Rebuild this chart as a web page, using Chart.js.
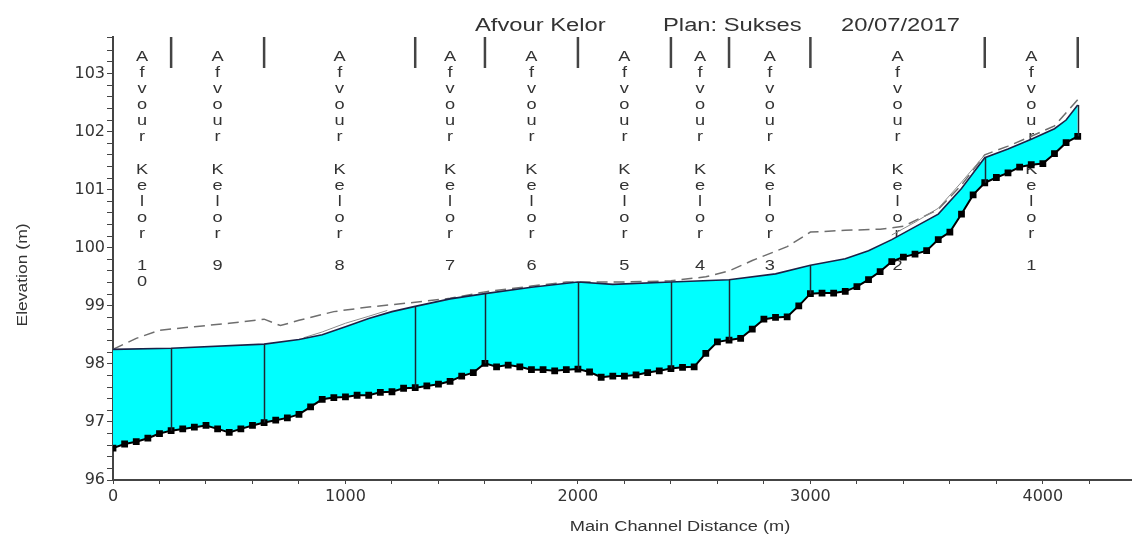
<!DOCTYPE html>
<html>
<head>
<meta charset="utf-8">
<title>Afvour Kelor - Plan: Sukses</title>
<script src="https://cdn.jsdelivr.net/npm/chart.js@4.4.1/dist/chart.umd.min.js"></script>
<style>
  html, body { margin: 0; padding: 0; background: #fff; }
  #wrap { width: 1136px; height: 536px; }
</style>
</head>
<body>
<div id="wrap"><canvas id="profile" width="1136" height="536"></canvas></div>
<script>
// ground (channel bed) points, every 50 m along the main channel
var bedDist = [0, 50, 100, 150, 200, 250, 300, 350, 400, 450,
  500, 550, 600, 650, 700, 750, 800, 850, 900, 950,
  1000, 1050, 1100, 1150, 1200, 1250, 1300, 1350, 1400, 1450,
  1500, 1550, 1600, 1650, 1700, 1750, 1800, 1850, 1900, 1950,
  2000, 2050, 2100, 2150, 2200, 2250, 2300, 2350, 2400, 2450,
  2500, 2550, 2600, 2650, 2700, 2750, 2800, 2850, 2900, 2950,
  3000, 3050, 3100, 3150, 3200, 3250, 3300, 3350, 3400, 3450,
  3500, 3550, 3600, 3650, 3700, 3750, 3800, 3850, 3900, 3950,
  4000, 4050, 4100, 4150];
var bedElev = [96.55, 96.62, 96.66, 96.72, 96.80, 96.85, 96.88, 96.91, 96.94, 96.88,
  96.82, 96.88, 96.94, 96.99, 97.03, 97.07, 97.13, 97.26, 97.39, 97.42,
  97.43, 97.46, 97.46, 97.51, 97.52, 97.58, 97.59, 97.62, 97.65, 97.70,
  97.79, 97.85, 98.01, 97.95, 97.98, 97.95, 97.90, 97.90, 97.88, 97.90,
  97.91, 97.86, 97.77, 97.79, 97.79, 97.81, 97.85, 97.88, 97.92, 97.94,
  97.95, 98.18, 98.38, 98.41, 98.44, 98.60, 98.77, 98.80, 98.81, 99.00,
  99.21, 99.22, 99.22, 99.25, 99.33, 99.45, 99.59, 99.76, 99.84, 99.89,
  99.95, 100.14, 100.27, 100.58, 100.91, 101.12, 101.21, 101.29, 101.39, 101.43,
  101.45, 101.62, 101.81, 101.92];

// water surface
var wsDist = [0, 250, 650, 800, 900, 1000, 1100, 1200, 1300, 1450, 1600, 1800, 2000, 2150, 2400,
  2650, 2850, 3000, 3150, 3250, 3350, 3450, 3550, 3650, 3750, 3850, 3950, 4050, 4100, 4150];
var wsElev = [98.25, 98.27, 98.34, 98.42, 98.50, 98.64, 98.78, 98.90, 98.99, 99.12, 99.21, 99.32, 99.41, 99.37, 99.41,
  99.45, 99.55, 99.70, 99.81, 99.95, 100.14, 100.36, 100.58, 101.02, 101.55, 101.70, 101.87, 102.05, 102.20, 102.46];

// energy grade line (dashed)
var egDist = [0, 100, 200, 350, 500, 650, 720, 800, 950, 1100, 1300, 1450, 1600, 1800, 1950, 2200, 2400,
  2550, 2650, 2750, 2900, 3000, 3150, 3300, 3400, 3550, 3650, 3750, 3850, 3950, 4050, 4150];
var egElev = [98.25, 98.44, 98.58, 98.64, 98.70, 98.77, 98.66, 98.75, 98.90, 98.98, 99.06, 99.13, 99.24, 99.34, 99.41, 99.41, 99.43,
  99.50, 99.60, 99.78, 100.02, 100.27, 100.30, 100.32, 100.37, 100.66, 101.08, 101.60, 101.75, 101.92, 102.10, 102.55];

// thin grey line just above the water surface (null = gap)
var critDist = [820, 900, 1000, 1100, 1180, 2000, 3350, 3450, 3550, 3650, 3750];
var critElev = [98.45, 98.55, 98.70, 98.82, 98.92, null, 100.22, 100.44, 100.68, 101.13, 101.60];

// reach boundaries and reach names (upstream is on the right)
var sectionDist = [0, 250, 650, 1300, 1600, 2000, 2400, 2650, 3000, 3750, 4150];
var reachNames = ['Afvour Kelor 10', 'Afvour Kelor 9', 'Afvour Kelor 8', 'Afvour Kelor 7', 'Afvour Kelor 6',
  'Afvour Kelor 5', 'Afvour Kelor 4', 'Afvour Kelor 3', 'Afvour Kelor 2', 'Afvour Kelor 1'];

var xTickValues = [0, 200, 400, 600, 800, 1000, 1200, 1400, 1600, 1800, 2000, 2200, 2400,
  2600, 2800, 3000, 3200, 3400, 3600, 3800, 4000, 4200];
var xLabelValues = [0, 1000, 2000, 3000, 4000];

var titleParts = ['Afvour Kelor', 'Plan: Sukses', '20/07/2017'];
var xTitle = 'Main Channel Distance (m)';
var yTitle = 'Elevation (m)';

function pairs(xs, ys) {
    return xs.map(function (x, i) { return { x: x, y: ys[i] }; });
}

// value of a polyline at a given distance
function valueAt(xs, ys, x) {
    for (var i = 0; i < xs.length - 1; i++) {
        if (x >= xs[i] && x <= xs[i + 1]) {
            var t = (x - xs[i]) / (xs[i + 1] - xs[i]);
            return ys[i] + t * (ys[i + 1] - ys[i]);
        }
    }
    return ys[ys.length - 1];
}

// text stretched wider like the original export
function wideText(ctx, text, x, y, sx, align) {
    ctx.save();
    ctx.translate(x, y);
    ctx.scale(sx, 1);
    ctx.textAlign = align;
    ctx.fillText(text, 0, 0);
    ctx.restore();
}

var profilePlugin = {
    id: 'profile',
    beforeDatasetsDraw: function (chart) {
        // stacked reach labels, under the water fill
        var ctx = chart.ctx, xs = chart.scales.x;
        ctx.save();
        ctx.font = '14px "Liberation Sans", Arial, sans-serif';
        ctx.fillStyle = '#333';
        ctx.textBaseline = 'middle';
        for (var i = 0; i < reachNames.length; i++) {
            var mid = (sectionDist[i] + sectionDist[i + 1]) / 2;
            var px = xs.getPixelForValue(mid);
            var chars = reachNames[i].split('');
            for (var k = 0; k < chars.length; k++) {
                if (chars[k] === ' ') continue;
                wideText(ctx, chars[k], px, 57 + k * 16.1, 1.3, 'center');
            }
        }
        ctx.restore();
    },
    afterDatasetsDraw: function (chart) {
        var ctx = chart.ctx, xs = chart.scales.x, ys = chart.scales.y, area = chart.chartArea;
        ctx.save();
        // reach boundary lines inside the water
        ctx.strokeStyle = '#1c2833';
        ctx.lineWidth = 1.5;
        for (var i = 1; i < sectionDist.length; i++) {
            var s = sectionDist[i];
            var px = Math.round(xs.getPixelForValue(s)) + 0.5;
            var bed = bedElev[bedDist.indexOf(s)];
            var ws = valueAt(wsDist, wsElev, s);
            ctx.beginPath();
            ctx.moveTo(px, ys.getPixelForValue(bed));
            ctx.lineTo(px, ys.getPixelForValue(ws));
            ctx.stroke();
        }
        // boundary marks along the top
        ctx.strokeStyle = '#444';
        ctx.lineWidth = 2.5;
        for (var j = 1; j < sectionDist.length; j++) {
            var qx = xs.getPixelForValue(sectionDist[j]);
            ctx.beginPath();
            ctx.moveTo(qx, area.top);
            ctx.lineTo(qx, area.top + 31);
            ctx.stroke();
        }
        ctx.restore();
    },
    afterDraw: function (chart) {
        var ctx = chart.ctx;
        ctx.save();
        ctx.fillStyle = '#333';
        ctx.textBaseline = 'alphabetic';
        ctx.font = '18px "Liberation Sans", Arial, sans-serif';
        var tx = [475, 663, 841];
        for (var i = 0; i < titleParts.length; i++) {
            wideText(ctx, titleParts[i], tx[i], 31, 1.32, 'left');
        }
        ctx.font = '14px "Liberation Sans", Arial, sans-serif';
        wideText(ctx, xTitle, 680, 531, 1.3, 'center');
        ctx.save();
        ctx.translate(27, 275);
        ctx.rotate(-Math.PI / 2);
        ctx.textAlign = 'center';
        ctx.scale(1.25, 1);
        ctx.fillText(yTitle, 0, 0);
        ctx.restore();
        ctx.restore();
    }
};

var tickFont = { family: '"DejaVu Sans", sans-serif', size: 16 };

function isWhole(v) {
    return Math.abs(v - Math.round(v)) < 1e-6;
}

var ctx = document.getElementById('profile');
var chart = new Chart(ctx, {
    type: 'line',
    data: {
        datasets: [
            {
                label: 'Ground',
                data: pairs(bedDist, bedElev),
                borderColor: '#000',
                borderWidth: 2,
                pointStyle: 'rect',
                pointRadius: 4.8,
                pointBackgroundColor: '#000',
                pointBorderWidth: 0,
                fill: false
            },
            {
                label: 'WS',
                data: pairs(wsDist, wsElev),
                borderColor: '#1a2248',
                borderWidth: 1.6,
                pointRadius: 0,
                backgroundColor: '#00ffff',
                fill: '-1'
            },
            {
                label: 'Crit',
                data: pairs(critDist, critElev),
                borderColor: '#8c8c8c',
                borderWidth: 1,
                pointRadius: 0,
                spanGaps: false,
                fill: false
            },
            {
                label: 'EG',
                data: pairs(egDist, egElev),
                borderColor: '#6e6e6e',
                borderWidth: 1.5,
                borderDash: [11, 6],
                pointRadius: 0,
                fill: false
            }
        ]
    },
    options: {
        responsive: false,
        animation: false,
        layout: { padding: { top: 37, right: 1, left: 0, bottom: 0 } },
        plugins: {
            legend: { display: false },
            tooltip: { enabled: false }
        },
        scales: {
            x: {
                type: 'linear',
                min: 0,
                max: 4380,
                afterFit: function (s) { s.height = 56; },
                afterBuildTicks: function (s) {
                    s.ticks = xTickValues.map(function (v) { return { value: v }; });
                },
                border: { color: '#444', width: 2 },
                grid: { drawOnChartArea: false, drawTicks: true, tickLength: 4, color: '#444' },
                ticks: {
                    autoSkip: false,
                    maxRotation: 0,
                    minRotation: 0,
                    padding: 3,
                    color: '#333',
                    font: tickFont,
                    callback: function (v) {
                        var r = Math.round(v);
                        return xLabelValues.indexOf(r) >= 0 ? String(r) : '';
                    }
                }
            },
            y: {
                min: 96,
                max: 103.63,
                afterFit: function (s) { s.width = 113; },
                border: { color: '#444', width: 2 },
                grid: { drawOnChartArea: false, drawTicks: true, tickLength: 6, color: '#444' },
                ticks: {
                    stepSize: 0.2,
                    autoSkip: false,
                    maxTicksLimit: 200,
                    padding: 2,
                    color: '#333',
                    font: tickFont,
                    callback: function (v) { return isWhole(v) ? String(Math.round(v)) : ''; }
                }
            }
        }
    },
    plugins: [profilePlugin]
});
</script>
</body>
</html>
